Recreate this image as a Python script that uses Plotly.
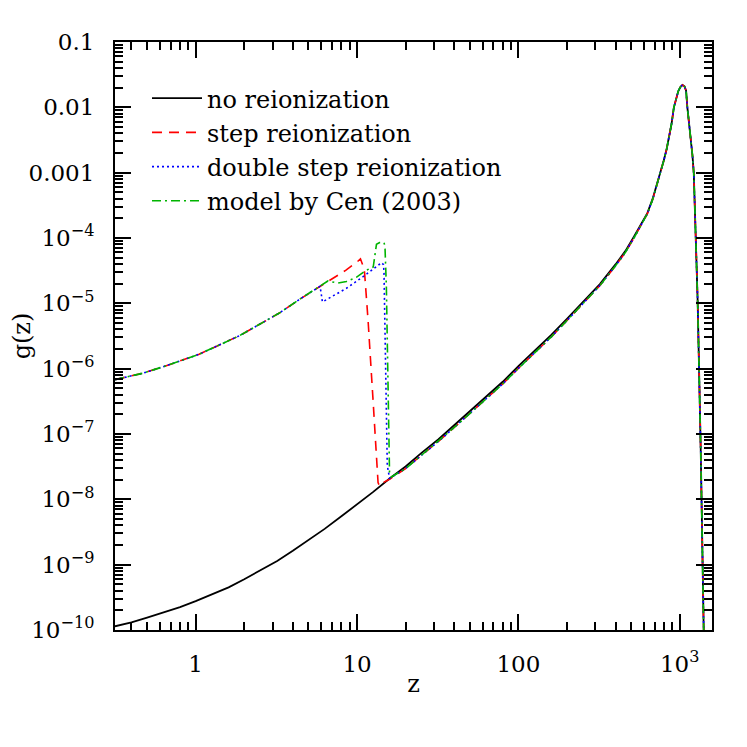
import plotly.graph_objects as go

# ---- data ----
# no reionization
z_none = [0.316, 0.4, 0.5, 0.63, 0.8, 1.0, 1.26, 1.6, 2.0, 2.5, 3.2, 4.0, 5.0, 6.3, 8.0,
          10.0, 12.6, 16.0, 20.0, 25.0, 32.0, 40.0, 50.0, 63.0, 80.0, 100.0, 126.0, 160.0,
          200.0, 250.0, 320.0, 400.0, 460.0, 520.0, 580.0, 630.0, 680.0, 726.0, 760.0,
          797.0, 830.0, 857.0, 890.0, 920.0, 950.0, 980.0, 1010.0, 1040.0, 1070.0, 1095.0,
          1115.0, 1140.0, 1170.0, 1200.0, 1222.0, 1256.0, 1291.0, 1349.0, 1377.0, 1400.0,
          1430.0]
g_none = [1.14e-10, 1.31e-10, 1.55e-10, 1.85e-10, 2.24e-10, 2.76e-10, 3.48e-10, 4.5e-10,
          5.98e-10, 8.17e-10, 1.14e-9, 1.63e-9, 2.38e-9, 3.53e-9, 5.5e-9, 8.3e-9, 1.3e-8,
          2.1e-8, 3.18e-8, 5.1e-8, 8.3e-8, 1.36e-7, 2.21e-7, 3.72e-7, 6.3e-7, 1.09e-6,
          1.88e-6, 3.29e-6, 5.8e-6, 1.05e-5, 1.97e-5, 3.94e-5, 6.3e-5, 1.05e-4, 1.7e-4,
          2.4e-4, 4.0e-4, 6.8e-4, 1.05e-3, 1.55e-3, 2.3e-3, 3.5e-3, 5.6e-3, 1.0e-2, 1.4e-2,
          1.78e-2, 2.05e-2, 2.21e-2, 2.1e-2, 1.8e-2, 1.0e-2, 6.3e-3, 3.5e-3, 1.8e-3, 9.8e-4,
          1.32e-4, 1.12e-5, 5.9e-8, 1.26e-9, 1.0e-10, 1.0e-11]

# common low-z part of the reionized models
z_low = [0.316, 0.47, 0.65, 1.05, 1.87, 3.3, 4.4, 5.9]
g_low = [6.8e-7, 8.5e-7, 1.1e-6, 1.66e-6, 3.2e-6, 7.1e-6, 1.15e-5, 1.82e-5]

# common high-z tail of the reionized models (after the jump)
z_tail = [20.0, 25.0, 32.0, 40.0, 50.0, 63.0, 80.0, 100.0, 126.0, 160.0, 200.0, 250.0,
          320.0, 400.0, 460.0, 520.0, 580.0, 630.0, 680.0, 726.0, 760.0, 797.0, 830.0,
          857.0, 890.0, 920.0, 950.0, 980.0, 1010.0, 1040.0, 1070.0, 1095.0, 1115.0,
          1140.0, 1170.0, 1200.0, 1222.0, 1256.0, 1291.0, 1349.0, 1377.0, 1400.0, 1430.0]
g_tail = [2.95e-8, 4.7e-8, 7.7e-8, 1.26e-7, 2.05e-7, 3.45e-7, 5.85e-7, 1.01e-6, 1.75e-6,
          3.07e-6, 5.45e-6, 9.9e-6, 1.87e-5, 3.75e-5, 6.0e-5, 1.0e-4, 1.65e-4, 2.35e-4,
          3.9e-4, 6.7e-4, 1.04e-3, 1.54e-3, 2.3e-3, 3.5e-3, 5.6e-3, 1.0e-2, 1.4e-2, 1.78e-2,
          2.05e-2, 2.2e-2, 2.09e-2, 1.8e-2, 1.0e-2, 6.3e-3, 3.5e-3, 1.8e-3, 9.8e-4, 1.32e-4,
          1.12e-5, 5.9e-8, 1.26e-9, 1.0e-10, 1.0e-11]

# step reionization (middle part)
z_step = [7.0, 8.5, 10.0, 10.5, 11.1, 11.7, 12.6, 13.5, 13.8, 14.5, 16.0]
g_step = [2.4e-5, 3.2e-5, 4.3e-5, 4.8e-5, 3.3e-5, 5.6e-6, 3.0e-7, 1.8e-8, 1.6e-8, 1.8e-8, 2.05e-8]

# double step reionization (middle part)
z_dbl = [6.0, 6.1, 8.6, 11.0, 14.2, 14.6, 14.7, 15.4, 15.9]
g_dbl = [1.4e-5, 1.05e-5, 1.7e-5, 2.6e-5, 4.2e-5, 3.9e-5, 2.9e-5, 3.3e-8, 2.1e-8]

# model by Cen (2003) (middle part)
z_cen = [6.6, 7.6, 8.6, 9.9, 11.4, 12.6, 12.9, 13.2, 13.8, 14.7, 14.9, 15.2, 15.9, 16.3]
g_cen = [2.2e-5, 2.04e-5, 2.16e-5, 2.5e-5, 3.2e-5, 3.6e-5, 5.9e-5, 8.0e-5, 8.5e-5, 8.5e-5,
         7.4e-5, 1.8e-5, 2.6e-8, 2.2e-8]

names = ["no reionization", "step reionization", "double step reionization", "model by Cen (2003)"]
colors = ["#000000", "#ff0000", "#0000ff", "#00b400"]
dashes = ["solid", "10px,7px", "2px,3px", "9px,4px,2px,4px"]

x_tickvals = [1, 10, 100, 1000]
x_ticktext = ["1", "10", "100", "10<sup>3</sup>"]
y_tickvals = [1e-10, 1e-9, 1e-8, 1e-7, 1e-6, 1e-5, 1e-4, 1e-3, 1e-2, 1e-1]
y_ticktext = ["10<sup>\u221210</sup>", "10<sup>\u22129</sup>", "10<sup>\u22128</sup>",
              "10<sup>\u22127</sup>", "10<sup>\u22126</sup>", "10<sup>\u22125</sup>",
              "10<sup>\u22124</sup>", "0.001", "0.01", "0.1"]

# ---- figure ----
series = [
    (z_none, g_none),
    (z_low + z_step + z_tail, g_low + g_step + g_tail),
    (z_low + z_dbl + z_tail, g_low + g_dbl + g_tail),
    (z_low + z_cen + z_tail, g_low + g_cen + g_tail),
]

fig = go.Figure()
for (zs, gs), name, col, dsh in zip(series, names, colors, dashes):
    fig.add_trace(go.Scatter(
        x=zs, y=gs, mode="lines", name=name,
        line=dict(color=col, width=1.8 if name == names[0] else 1.6, dash=dsh),
    ))

x_minor = [m * 10 ** e for e in range(-1, 4) for m in range(2, 10)]
y_minor = [m * 10.0 ** e for e in range(-11, 0) for m in range(2, 10)]

FONT = "DejaVu Serif"

axis_common = dict(
    showline=True, linecolor="black", linewidth=2, mirror="allticks",
    ticks="inside", ticklen=16, tickwidth=2, tickcolor="black",
    showgrid=False, zeroline=False, automargin=False,
    tickfont=dict(family=FONT, size=23, color="black"),
)

fig.update_xaxes(
    type="log", range=[-0.5, 3.2],
    tickvals=x_tickvals, ticktext=x_ticktext, ticklabelstandoff=12,
    minor=dict(tickvals=x_minor, ticks="inside", ticklen=8, tickwidth=1.5,
               tickcolor="black", showgrid=False),
    title=dict(text="z", font=dict(family=FONT, size=24, color="black"), standoff=0),
    **axis_common,
)
fig.update_yaxes(
    type="log", range=[-10, -1],
    tickvals=y_tickvals, ticktext=y_ticktext, ticklabelstandoff=14,
    minor=dict(tickvals=y_minor, ticks="inside", ticklen=8, tickwidth=1.5,
               tickcolor="black", showgrid=False),
    title=dict(text="g(z)", font=dict(family=FONT, size=24, color="black"), standoff=12),
    **axis_common,
)

fig.update_layout(
    width=739, height=739,
    margin=dict(l=107, r=35, t=34, b=117),
    paper_bgcolor="white", plot_bgcolor="white",
    showlegend=True,
    legend=dict(
        x=0.0536, y=0.942, xanchor="left", yanchor="top",
        bgcolor="rgba(0,0,0,0)", borderwidth=0,
        font=dict(family=FONT, size=24, color="black"),
        itemwidth=50, tracegroupgap=0,
    ),
)

fig.write_html("out.html")
